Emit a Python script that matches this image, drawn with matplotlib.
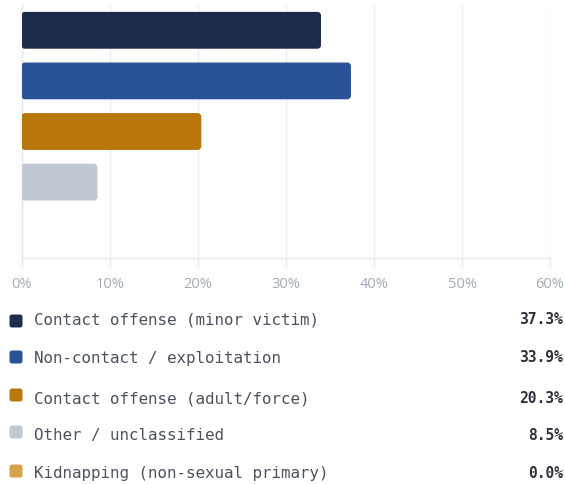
"""Horizontal bar breakdown of offense categories with a value legend below."""

import matplotlib

matplotlib.use("Agg")
import matplotlib.pyplot as plt
from matplotlib.patches import FancyBboxPatch

# bars as drawn, top to bottom
bar_values = [33.9, 37.3, 20.3, 8.5, 0.0]
bar_colors = ["#1d2b4c", "#2a5297", "#b8760b", "#c1c8d3", "#d8a24c"]

# legend rows
legend_labels = [
    "Contact offense (minor victim)",
    "Non-contact / exploitation",
    "Contact offense (adult/force)",
    "Other / unclassified",
    "Kidnapping (non-sexual primary)",
]
legend_values = [37.3, 33.9, 20.3, 8.5, 0.0]
legend_colors = ["#1d2b4c", "#2a5297", "#b8760b", "#c1c8d3", "#d8a24c"]

x_ticks = [0, 10, 20, 30, 40, 50, 60]
x_tick_labels = [f"{t}%" for t in x_ticks]

W, H = 565, 485
fig = plt.figure(figsize=(W / 100, H / 100), dpi=100)

ax = fig.add_axes([22 / W, 1 - 259 / H, 528 / W, 253 / H])
n = len(bar_values)
ys = list(range(n))
bars = ax.barh(ys, bar_values, height=0.7, color=bar_colors)
ax.set_xlim(0, 60)
ax.set_ylim(n - 0.5, -0.5)

# swap the square bars for rounded ones of the same size
px_x = 528 / 60
px_y = 253 / n
for b, c in zip(bars, bar_colors):
    b.set_visible(False)
    if b.get_width() <= 0:
        continue
    r = 3 / px_x
    ax.add_patch(
        FancyBboxPatch(
            (b.get_x(), b.get_y()),
            b.get_width(),
            b.get_height(),
            boxstyle=f"round,pad=0,rounding_size={r}",
            mutation_aspect=px_x / px_y,
            facecolor=c,
            edgecolor=c,
            lw=1,
            zorder=3,
        )
    )

ax.set_xticks(x_ticks)
ax.set_xticklabels(x_tick_labels, family="Open Sans", fontsize=10.5, color="#a3abba")
ax.set_yticks([])
ax.tick_params(axis="x", length=7, width=1, color="#e6e8ee", pad=6)
ax.grid(axis="x", color="#eceef2", lw=1, zorder=0)
ax.set_axisbelow(True)
for side in ("top", "right"):
    ax.spines[side].set_visible(False)
for side in ("left", "bottom"):
    ax.spines[side].set_color("#e3e6eb")
    ax.spines[side].set_linewidth(1)

# legend rows drawn in figure pixels
marker_y = [322, 358, 396, 433, 472]
text_y = [320, 358, 399, 436, 474]
for lab, val, col, my, ty in zip(legend_labels, legend_values, legend_colors, marker_y, text_y):
    fig.patches.append(
        FancyBboxPatch(
            (9.5 / W, 1 - (my + 6.5) / H),
            13 / W,
            13 / H,
            boxstyle=f"round,pad=0,rounding_size={2.5 / W}",
            mutation_aspect=W / H,
            transform=fig.transFigure,
            facecolor=col,
            edgecolor="none",
        )
    )
    fig.text(34 / W, 1 - ty / H, lab, family="DejaVu Sans Mono", fontsize=11.4,
             color="#4a505e", va="center", ha="left")
    fig.text(563 / W, 1 - ty / H, f"{val:.1f}%", family="DejaVu Sans Mono",
             fontsize=10.5, fontweight="bold", color="#2b303b", va="center", ha="right")

fig.savefig("out.png", dpi=100)
